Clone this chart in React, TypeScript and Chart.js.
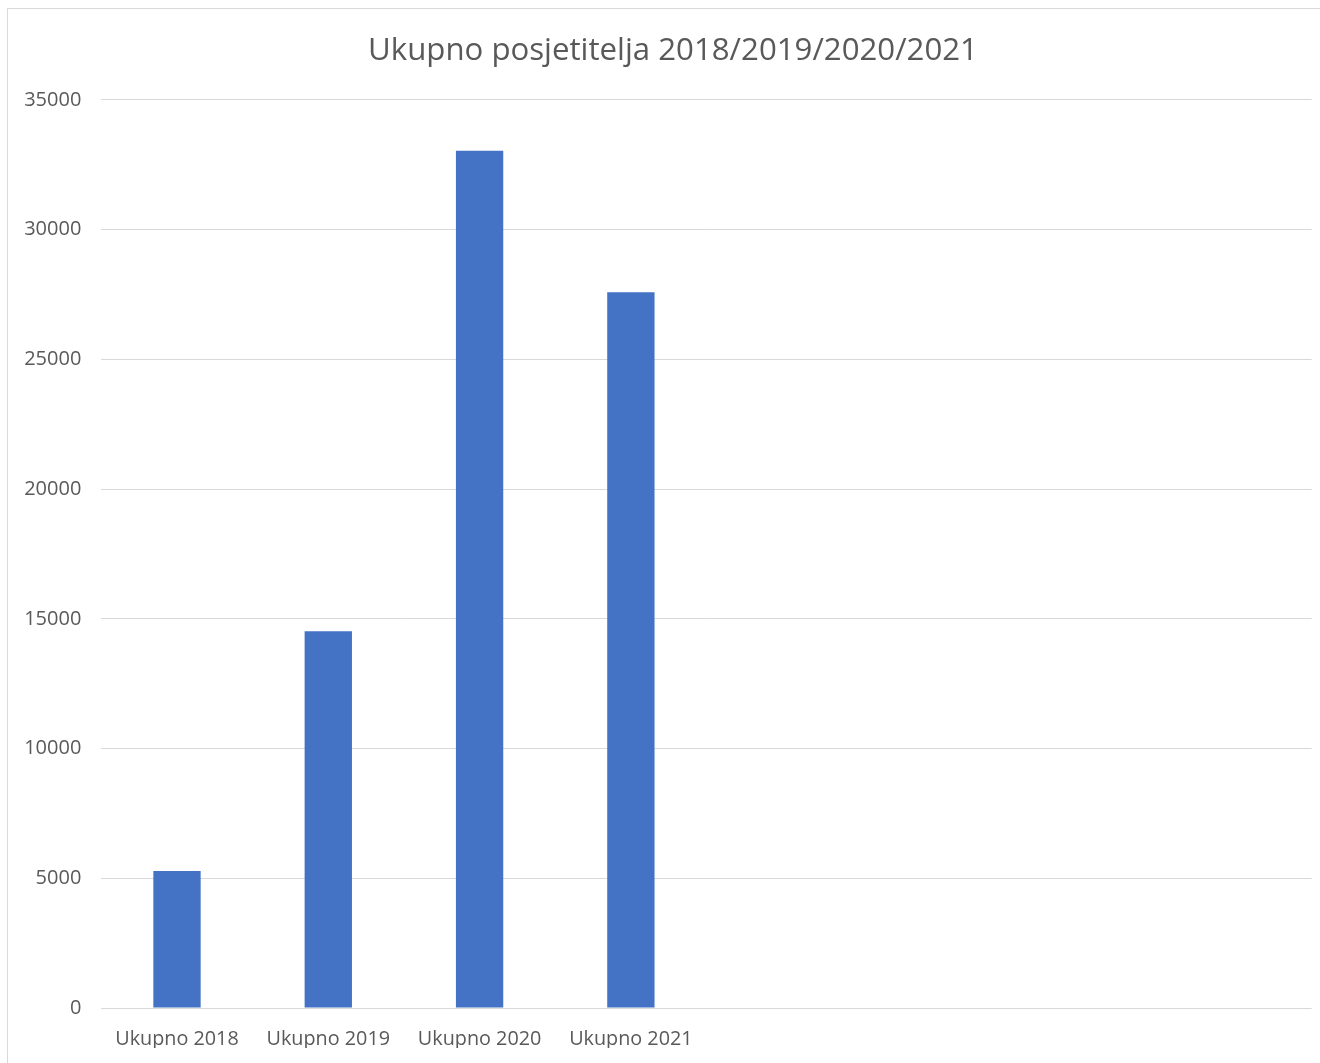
import React, { useEffect, useRef } from "react";
import { Chart, registerables } from "chart.js";

Chart.register(...registerables);

const categories = ["Ukupno 2018", "Ukupno 2019", "Ukupno 2020", "Ukupno 2021", "", "", "", ""];
const visitors = [5280, 14520, 33040, 27590, null, null, null, null];
const yMin = 0;
const yMax = 35000;
const yStep = 5000;
const titleText = "Ukupno posjetitelja 2018/2019/2020/2021";

const FONT = "'Open Sans', 'Noto Sans', sans-serif";
const TEXT = "#595959";
const GRID = "#d9d9d9";

export default function App() {
  const ref = useRef<HTMLCanvasElement | null>(null);

  useEffect(() => {
    if (!ref.current) return;
    const chart = new Chart(ref.current, {
      type: "bar",
      data: {
        labels: categories,
        datasets: [
          {
            data: visitors,
            backgroundColor: "#4472C4",
            borderWidth: 0,
            barPercentage: 0.3128,
            categoryPercentage: 1,
            yAxisID: "y",
          },
        ],
      },
      options: {
        animation: false,
        responsive: true,
        maintainAspectRatio: false,
        devicePixelRatio: 1,
        layout: { padding: { left: 0, right: 0, top: 0, bottom: 21 } },
        plugins: {
          legend: { display: false },
          tooltip: { enabled: false },
          title: {
            display: true,
            text: titleText,
            color: TEXT,
            font: { family: FONT, size: 31.2, weight: "normal", lineHeight: 1.2 },
            padding: { top: 23, bottom: 30.5 },
          },
        },
        scales: {
          x: {
            grid: { display: false, drawTicks: false },
            border: { display: false },
            ticks: {
              color: TEXT,
              font: { family: FONT, size: 19.8 },
              padding: 19,
              maxRotation: 0,
              autoSkip: false,
            },
            afterFit: (s: any) => {
              s.height = 40;
            },
          },
          y: {
            min: yMin,
            max: yMax,
            grid: { color: GRID, lineWidth: 1, drawTicks: false },
            border: { display: false },
            ticks: {
              stepSize: yStep,
              color: TEXT,
              font: { family: FONT, size: 20 },
              padding: 20,
              callback: (v: any) => String(v),
            },
            afterFit: (s: any) => {
              s.width = 93.35;
            },
          },
          y2: {
            position: "right",
            min: yMin,
            max: yMax,
            grid: { display: false, drawTicks: false },
            border: { display: false },
            ticks: { display: false },
            afterFit: (s: any) => {
              s.width = 26.3;
            },
          },
        },
      },
    });
    return () => chart.destroy();
  }, []);

  return (
    <div
      style={{
        position: "absolute",
        left: 7,
        top: 8,
        width: 1313,
        height: 1055,
        overflow: "hidden",
        borderLeft: `1px solid ${GRID}`,
        borderTop: `1px solid ${GRID}`,
        boxSizing: "border-box",
        background: "#fff",
      }}
    >
      <div style={{ position: "relative", width: 1330, height: 1060 }}>
        <canvas ref={ref} />
      </div>
    </div>
  );
}
